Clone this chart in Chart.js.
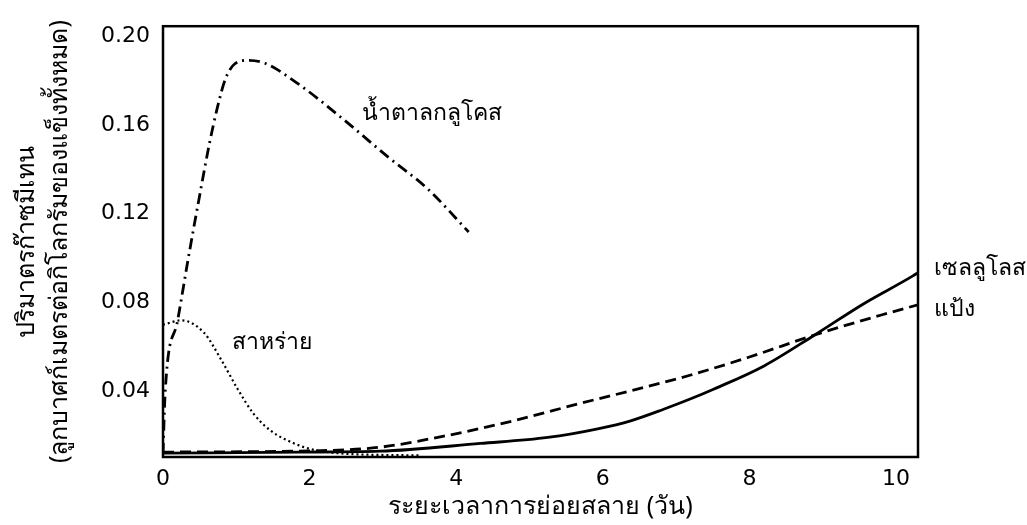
<!DOCTYPE html>
<html>
<head>
<meta charset="utf-8">
<script src="https://cdn.jsdelivr.net/npm/chart.js@4.4.1/dist/chart.umd.min.js"></script>
<style>
html, body { margin: 0; padding: 0; background: #fff; }
#wrap { width: 1027px; height: 525px; }
</style>
</head>
<body>
<div id="wrap"><canvas id="myChart"></canvas></div>
<script>
'use strict'
// ==> data
let xTicks = [0, 2, 4, 6, 8, 10];
let yTicks = [0.04, 0.08, 0.12, 0.16, 0.20];

let glucoseDays = [0, 0.03, 0.2, 0.34, 0.51, 0.63, 0.74, 0.85, 0.98, 1.16, 1.39, 1.83, 2.46, 3.06, 3.61, 4.17];
let glucoseVol = [0.012, 0.040, 0.072, 0.099, 0.130, 0.151, 0.1675, 0.1805, 0.1875, 0.189, 0.1877, 0.1788, 0.1625, 0.1458, 0.1312, 0.1118];

let algaeDays = [0, 0.25, 0.56, 0.79, 1.02, 1.24, 1.47, 1.79, 2.02, 2.43, 3.49];
let algaeVol = [0.070, 0.072, 0.0664, 0.0545, 0.041, 0.0298, 0.0223, 0.0166, 0.014, 0.0121, 0.0112];

let celluloseDays = [0, 1.87, 2.96, 4.33, 5.25, 5.93, 6.38, 6.83, 7.2, 7.51, 8.2, 8.88, 9.56, 10.23, 10.3];
let celluloseVol = [0.0122, 0.0127, 0.0131, 0.0166, 0.0193, 0.0232, 0.0268, 0.032, 0.0367, 0.041, 0.0515, 0.0652, 0.0795, 0.092, 0.0935];

let starchDays = [0, 2.32, 2.96, 3.88, 4.78, 5.7, 6.61, 7.2, 7.98, 8.98, 9.8, 10.3];
let starchVol = [0.0127, 0.0135, 0.0149, 0.0202, 0.0268, 0.0347, 0.0422, 0.0474, 0.0553, 0.0664, 0.0744, 0.079];

let curveNames = ['น้ำตาลกลูโคส', 'สาหร่าย', 'เซลลูโลส', 'แป้ง'];
//__________________________________________________________________________________==<

function toPoints(days, vols) {
    let pts = [];
    for (let i = 0; i < days.length; i++) {
        pts.push({ x: days[i], y: vols[i] });
    }
    return pts;
}

function lineSet(name, days, vols, dash, width) {
    return {
        label: name,
        data: toPoints(days, vols),
        borderColor: '#000',
        borderWidth: width,
        borderDash: dash,
        pointRadius: 0,
        fill: false,
        cubicInterpolationMode: 'monotone'
    };
}

// plot frame + curve names
let framePlugin = {
    id: 'frame',
    afterDatasetsDraw(chart) {
        let ctx = chart.ctx;
        let a = chart.chartArea;
        ctx.save();
        ctx.strokeStyle = '#000';
        ctx.lineWidth = 2.5;
        ctx.strokeRect(a.left, a.top, a.right - a.left, a.bottom - a.top);

        let xs = chart.scales.x;
        let ys = chart.scales.y;
        // anchor (in days / volume) of each curve name, left/baseline
        let anchors = [[2.72, 0.1621], [0.94, 0.0589], [10.52, 0.0924], [10.52, 0.0739]];
        ctx.fillStyle = '#000';
        ctx.font = '23px "Noto Sans", "DejaVu Sans", sans-serif';
        ctx.textAlign = 'left';
        ctx.textBaseline = 'alphabetic';
        for (let i = 0; i < curveNames.length; i++) {
            ctx.fillText(curveNames[i], xs.getPixelForValue(anchors[i][0]), ys.getPixelForValue(anchors[i][1]));
        }
        ctx.restore();
    }
};

let ctx = document.getElementById('myChart').getContext('2d');
let myChart = new Chart(ctx, {
    type: 'line',
    data: {
        datasets: [
            lineSet(curveNames[0], glucoseDays, glucoseVol, [11, 5, 2, 5], 2.8),
            lineSet(curveNames[1], algaeDays, algaeVol, [2, 3], 2.2),
            lineSet(curveNames[2], celluloseDays, celluloseVol, [], 2.8),
            lineSet(curveNames[3], starchDays, starchVol, [11, 6], 2.8)
        ]
    },
    options: {
        responsive: true,
        maintainAspectRatio: false,
        animation: false,
        layout: { padding: { left: 0, top: 17, right: 109, bottom: 0 } },
        plugins: {
            legend: { display: false },
            tooltip: { enabled: false }
        },
        scales: {
            x: {
                type: 'linear',
                min: 0,
                max: 10.3,
                grid: { display: false, drawTicks: false },
                border: { display: false },
                afterBuildTicks: function (scale) {
                    scale.ticks = xTicks.map(v => ({ value: v }));
                },
                afterFit: function (scale) { scale.height = 68; },
                ticks: {
                    color: '#000',
                    padding: 9,
                    maxRotation: 0,
                    font: { family: '"DejaVu Sans", sans-serif', size: 22 }
                },
                title: {
                    display: true,
                    text: 'ระยะเวลาการย่อยสลาย (วัน)',
                    color: '#000',
                    padding: { top: 0, bottom: 3 },
                    font: { family: '"Noto Sans", "DejaVu Sans", sans-serif', size: 25 }
                }
            },
            y: {
                min: 0.0105,
                max: 0.2044,
                grid: { display: false, drawTicks: false },
                border: { display: false },
                afterBuildTicks: function (scale) {
                    scale.ticks = yTicks.map(v => ({ value: v }));
                },
                afterFit: function (scale) { scale.width = 163; },
                ticks: {
                    color: '#000',
                    padding: 13,
                    font: { family: '"DejaVu Sans", sans-serif', size: 22 },
                    callback: function (v) { return v.toFixed(2); }
                },
                title: {
                    display: true,
                    text: ['ปริมาตรก๊าซมีเทน', '(ลูกบาศก์เมตรต่อกิโลกรัมของแข็งทั้งหมด)'],
                    color: '#000',
                    padding: { top: 10, bottom: 0 },
                    font: { family: '"Noto Sans", "DejaVu Sans", sans-serif', size: 25, lineHeight: 1.32 }
                }
            }
        }
    },
    plugins: [framePlugin]
});
//__________________________________________________________________________________________END==<
</script>
</body>
</html>
